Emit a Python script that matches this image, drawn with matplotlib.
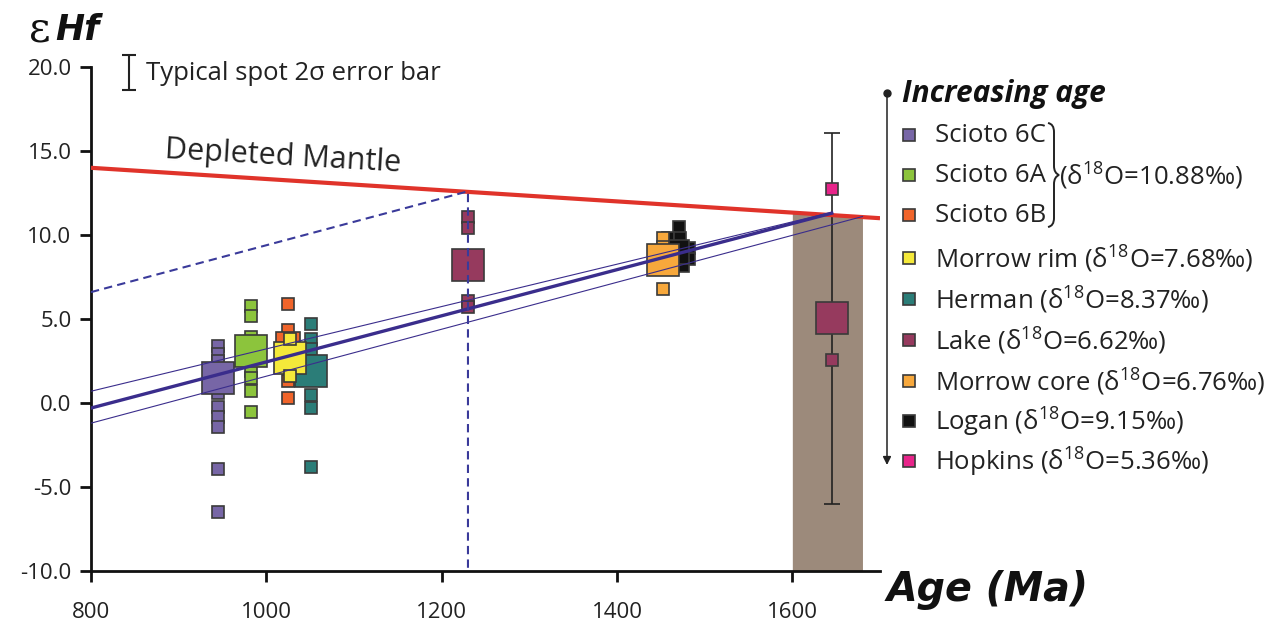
import numpy as np
import matplotlib
matplotlib.use("Agg")
import matplotlib.pyplot as plt
from matplotlib.path import Path
from matplotlib.patches import PathPatch

plt.rcParams['font.family'] = ['Open Sans', 'DejaVu Sans']

# --- data (age in Ma, epsilon Hf) ---
scioto6c_age = 945
scioto6c_spots = [3.4, 2.9, 2.5, 0.6, -0.25, -0.85, -1.45, -3.9, -6.5]
scioto6c_mean = 1.5

scioto6a_age = 983
scioto6a_spots = [5.8, 5.2, 3.9, 1.9, 1.5, 0.7, -0.55]
scioto6a_mean = 3.1

scioto6b_age = 1025
scioto6b_spots = [5.9, 4.35, 1.3, 0.3]
scioto6b_mean = 3.5

morrow_rim_age = 1027
morrow_rim_spots = [3.8, 1.6]
morrow_rim_mean = 2.7

herman_age = 1051
herman_spots = [4.7, 3.8, 3.2, 0.5, -0.3, -3.8]
herman_mean = 1.9

lake_age = 1230
lake_spots = [11.1, 10.4, 6.1, 5.7]
lake_mean = 8.2

logan_ages = [1471, 1458, 1472, 1482, 1482, 1475, 1458]
logan_spots = [10.45, 9.8, 9.8, 9.2, 8.6, 8.15, 9.1]
logan_mean_age = 1468
logan_mean = 9.0

morrow_core_age = 1452
morrow_core_spots = [9.8, 9.3, 6.8]
morrow_core_mean = 8.5

hopkins_age = 1645
hopkins_spots = [12.75]

old_age = 1645
old_spots = [2.55]
old_mean = 5.05
old_err = 11.05

band_ages = [1600, 1680]

dm_x = [800, 1700]
dm_y = [14.0, 11.0]
reg_x = [800, 1645]
reg_y = [-0.3, 11.3]
upper_x = [800, 1645]
upper_y = [0.7, 11.35]
lower_x = [800, 1680]
lower_y = [-1.2, 11.1]
dash_x = [800, 1230, 1230]
dash_y = [6.6, 12.6, -10.0]

legend_labels = [
    'Scioto 6C', 'Scioto 6A', 'Scioto 6B',
    r'Morrow rim (δ$^{\mathregular{18}}$O=7.68‰)',
    r'Herman (δ$^{\mathregular{18}}$O=8.37‰)',
    r'Lake (δ$^{\mathregular{18}}$O=6.62‰)',
    r'Morrow core (δ$^{\mathregular{18}}$O=6.76‰)',
    r'Logan (δ$^{\mathregular{18}}$O=9.15‰)',
    r'Hopkins (δ$^{\mathregular{18}}$O=5.36‰)',
]
scioto_label = r'(δ$^{\mathregular{18}}$O=10.88‰)'

C_6C = '#7766a6'
C_6A = '#8cc43c'
C_6B = '#f0642a'
C_RIM = '#f5e93a'
C_HER = '#2b7d78'
C_LAKE = '#963a5e'
C_CORE = '#f7a83c'
C_LOG = '#111111'
C_HOP = '#e8248a'
legend_colors = [C_6C, C_6A, C_6B, C_RIM, C_HER, C_LAKE, C_CORE, C_LOG, C_HOP]

SMALL = 8.6
MID = 17
BIG = 23.5
EDGE = '#3a3a3a'
TXT = '#222222'

W, H = 1273, 622
fig = plt.figure(figsize=(W / 100, H / 100), dpi=100)
ax = fig.add_axes([91 / W, 1 - 571 / H, (880 - 91) / W, (571 - 67) / H])


def squares(x, y, color, size, z):
    x = np.broadcast_to(x, np.shape(y))
    ax.plot(x, y, ls='none', marker='s', ms=size, mfc=color, mec=EDGE,
            mew=1.2, zorder=z)


# brown band below the depleted mantle line
ax.fill_between(band_ages, -10, np.interp(band_ages, dm_x, dm_y),
                color='#9c8a7b', lw=0, zorder=1)
ax.errorbar(old_age, old_mean, yerr=old_err, color=TXT, lw=1.2,
            capsize=6, capthick=1.2, zorder=2)

squares(scioto6c_age, scioto6c_spots, C_6C, SMALL, 3)
squares(scioto6c_age, [scioto6c_mean], C_6C, BIG, 3)
squares(scioto6a_age, scioto6a_spots, C_6A, SMALL, 3)
squares(scioto6a_age, [scioto6a_mean], C_6A, BIG, 3)
squares(scioto6b_age, scioto6b_spots, C_6B, SMALL, 3)
squares(scioto6b_age, [scioto6b_mean], C_6B, MID, 3)
squares(herman_age, herman_spots, C_HER, SMALL, 3)
squares(herman_age, [herman_mean], C_HER, BIG, 3)
squares(morrow_rim_age, [morrow_rim_mean], C_RIM, BIG, 3.5)
squares(morrow_rim_age, morrow_rim_spots, C_RIM, SMALL, 3.5)
squares(lake_age, lake_spots, C_LAKE, SMALL, 3)
squares(lake_age, [lake_mean], C_LAKE, BIG, 3)
squares(logan_ages, logan_spots, C_LOG, SMALL, 3)
squares(logan_mean_age, [logan_mean], C_LOG, MID, 3)
squares(morrow_core_age, morrow_core_spots, C_CORE, SMALL, 3.5)
squares(morrow_core_age, [morrow_core_mean], C_CORE, BIG, 3.5)
squares(hopkins_age, hopkins_spots, C_HOP, SMALL, 3)
squares(old_age, old_spots, C_LAKE, SMALL, 3)
squares(old_age, [old_mean], C_LAKE, BIG, 3)

ax.plot(dm_x, dm_y, color='#e0332a', lw=3, zorder=5, solid_capstyle='butt')
ax.plot(reg_x, reg_y, color='#3a2d8c', lw=2.4, zorder=6)
ax.plot(upper_x, upper_y, color='#3a2d8c', lw=0.8, zorder=6)
ax.plot(lower_x, lower_y, color='#3a2d8c', lw=0.8, zorder=6)
ax.plot(dash_x, dash_y, color='#3a3a9a', lw=1.5, ls=(0, (4, 2.5)), zorder=6)

ax.text(1019, 14.64, 'Depleted Mantle', fontsize=22, rotation=-3.3,
        rotation_mode='anchor', ha='center', va='center', color=TXT)

ax.set_xlim(800, 1700)
ax.set_ylim(-10, 20)
ax.set_xticks([800, 1000, 1200, 1400, 1600])
ax.set_yticks(np.arange(-10, 21, 5))
ax.set_yticklabels([f'{v:.1f}' for v in np.arange(-10, 21, 5)])
for s in ['top', 'right']:
    ax.spines[s].set_visible(False)
for s in ['left', 'bottom']:
    ax.spines[s].set_linewidth(2)
    ax.spines[s].set_color('#111111')
ax.tick_params(axis='both', length=8, width=2, labelsize=16,
               color='#111111', labelcolor=TXT)
ax.tick_params(axis='x', pad=14)
ax.tick_params(axis='y', pad=6)

# overlay in pixel coordinates for the titles and the legend
ov = fig.add_axes([0, 0, 1, 1], zorder=10)
ov.set_xlim(0, W)
ov.set_ylim(H, 0)
ov.axis('off')

ov.text(29, 30, 'ε', fontsize=30, family='DejaVu Serif', va='center',
        color='#111111')
ov.text(55, 30, 'Hf', fontsize=25, family='DejaVu Sans', weight='bold',
        style='italic', va='center', color='#111111')
ov.text(887, 590, 'Age (Ma)', fontsize=28.5, family='DejaVu Sans',
        weight='bold', style='italic', va='center', color='#111111')

ov.errorbar(129, 72.5, yerr=17.5, color=TXT, lw=1.5, capsize=5,
            capthick=1.5)
ov.text(146, 73, 'Typical spot 2σ error bar', fontsize=18.5, va='center',
        color=TXT)

ov.text(902, 94, 'Increasing age', fontsize=21.5, weight='bold',
        style='italic', va='center', color='#111111')
ov.plot(887, 93, 'o', ms=5, color=TXT)
ov.annotate('', xy=(887, 465), xytext=(887, 93),
            arrowprops=dict(arrowstyle='-|>', lw=1.1, color=TXT,
                            mutation_scale=12, shrinkA=0, shrinkB=0))

legend_y = [135, 175, 215, 258, 299, 340, 381, 421, 461]
for yy, lab, col in zip(legend_y, legend_labels, legend_colors):
    ov.plot(909, yy, 's', ms=SMALL, mfc=col, mec=EDGE, mew=1.2)
    ov.text(935, yy, lab, fontsize=18.5, va='center', color=TXT)

brace = Path([(1048, 123), (1054, 124), (1054, 132), (1054, 166),
              (1054, 173), (1059, 175), (1054, 177), (1054, 184),
              (1054, 218), (1054, 226), (1048, 227)],
             [Path.MOVETO, Path.CURVE3, Path.CURVE3, Path.LINETO,
              Path.CURVE3, Path.CURVE3, Path.CURVE3, Path.CURVE3,
              Path.LINETO, Path.CURVE3, Path.CURVE3])
ov.add_patch(PathPatch(brace, fill=False, lw=1.4, color=TXT))
ov.text(1059, 175, scioto_label, fontsize=18.5, va='center', color=TXT)

fig.savefig('out.png', dpi=100, facecolor='white')
